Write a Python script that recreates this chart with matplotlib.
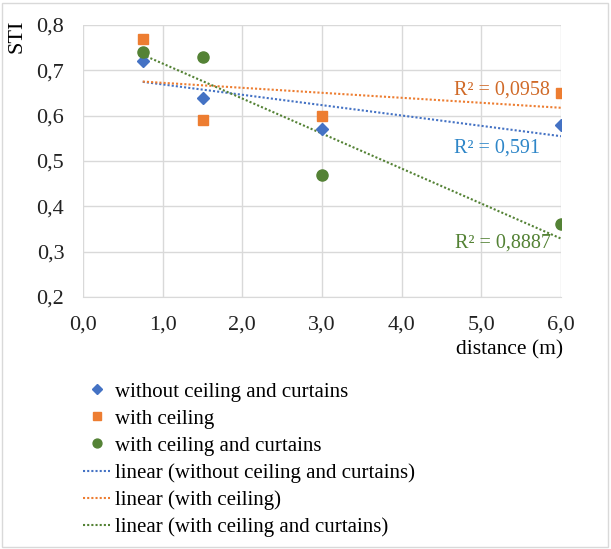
import numpy as np
import matplotlib
matplotlib.use("Agg")
import matplotlib.pyplot as plt
from matplotlib.ticker import FuncFormatter
from matplotlib.lines import Line2D
from matplotlib.patches import Rectangle

plt.rcParams['font.family'] = ['Liberation Serif', 'DejaVu Serif']

# Data
distance = [0.75, 1.5, 3.0, 6.0]
sti_no_ceiling = [0.72, 0.64, 0.57, 0.58]
sti_ceiling = [0.77, 0.59, 0.60, 0.65]
sti_ceiling_curtains = [0.74, 0.73, 0.47, 0.36]

labels = ["without ceiling and curtains", "with ceiling", "with ceiling and curtains"]
r2_texts = ["R² = 0,591", "R² = 0,0958", "R² = 0,8887"]
colors = ["#4472C4", "#ED7D31", "#548235"]
label_colors = ["#2E86C8", "#D06A28", "#548235"]
markers = ["D", "s", "o"]
msizes = [6, 7, 8]

fig = plt.figure(figsize=(6.11, 5.49), dpi=100)
ax = fig.add_axes([83 / 611, 1 - 297 / 549, (561 - 83) / 611, (297 - 25) / 549])

series = [sti_no_ceiling, sti_ceiling, sti_ceiling_curtains]
handles_pts = []
handles_lin = []
x = np.array(distance)
for ys, lab, c, m, ms in zip(series, labels, colors, markers, msizes):
    y = np.array(ys)
    h, = ax.plot(x, y, linestyle="none", marker=m, color=c, markersize=ms, zorder=3)
    handles_pts.append(h)
    # linear trendline over the data range
    k, b = np.polyfit(x, y, 1)
    xs = np.array([x.min(), x.max()])
    ax.plot(xs, k * xs + b, linestyle=(0, (1, 1)), color=c, linewidth=1.5, zorder=2)
    handles_lin.append(Line2D([], [], linestyle=(0, (1, 1)), color=c, linewidth=1.5))

# R² labels
ax.text(5.86, 0.657, r2_texts[1], color=label_colors[1], fontsize=14.5, ha="right", va="center")
ax.text(5.74, 0.528, r2_texts[0], color=label_colors[0], fontsize=14.5, ha="right", va="center")
ax.text(5.87, 0.319, r2_texts[2], color=label_colors[2], fontsize=14.5, ha="right", va="center")

ax.set_xlim(0, 6)
ax.set_ylim(0.2, 0.8)
ax.set_xticks(np.arange(0, 7, 1))
ax.set_yticks(np.arange(0.2, 0.81, 0.1))
fmt = FuncFormatter(lambda v, p: f"{v:.1f}".replace(".", ","))
ax.xaxis.set_major_formatter(fmt)
ax.yaxis.set_major_formatter(fmt)
ax.tick_params(length=0, labelsize=16, colors="#222222")
ax.tick_params(axis="y", pad=13.5)
ax.tick_params(axis="x", pad=13)
ax.grid(True, color="#D9D9D9", linewidth=1)
ax.set_axisbelow(True)
for s in ax.spines.values():
    s.set_visible(False)
ax.spines["bottom"].set_visible(True)
ax.spines["bottom"].set_color("#D9D9D9")

fig.text(17 / 611, 1 - 36 / 549, "STI", rotation=90, fontsize=16, ha="center", va="center")
fig.text(563 / 611, 1 - 350 / 549, "distance (m)", fontsize=15.5, ha="right", va="center")

leg_labels = labels + ["linear (" + l + ")" for l in labels]
leg = fig.legend(handles_pts + handles_lin, leg_labels, loc="upper left",
                 bbox_to_anchor=(83 / 611, 1 - 382 / 549), frameon=False, fontsize=15,
                 handlelength=1.3, handletextpad=0.25, labelspacing=0.36,
                 borderpad=0, borderaxespad=0, markerscale=0.8)

fig.add_artist(Rectangle((2 / 611, 2 / 549), 606 / 611, 544 / 549, transform=fig.transFigure,
                         fill=False, edgecolor="#D9D9D9", linewidth=1))

fig.savefig("out.png", dpi=100)
